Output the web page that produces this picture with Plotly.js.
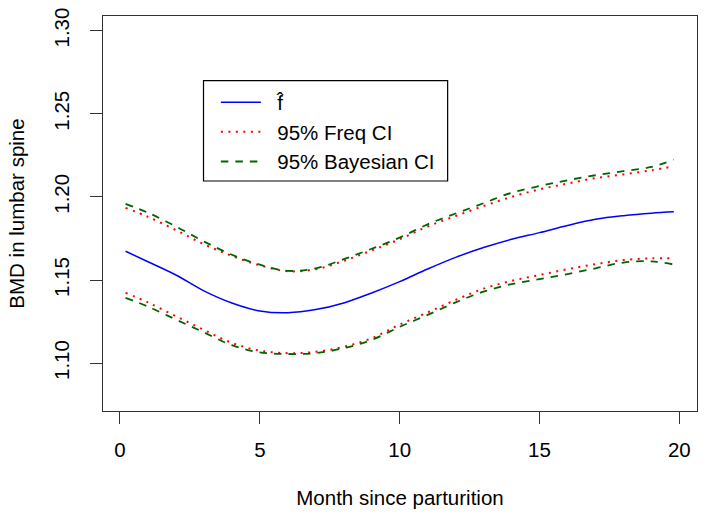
<!DOCTYPE html>
<html>
<head>
<meta charset="utf-8">
<script src="https://cdn.plot.ly/plotly-3.0.1.min.js"></script>
<style>
  html, body { margin: 0; padding: 0; background: #fff; }
  #chart { width: 710px; height: 521px; }
</style>
</head>
<body>
<div id="chart"></div>
<script>
// Month since parturition
const months = [0.2, 1, 2, 3, 4, 5, 6, 7, 8, 9, 10, 11, 12, 13, 14, 15, 16, 17, 18, 19, 19.8];

// fitted curve f-hat
const fHat = [1.1673, 1.1610, 1.1530, 1.1435, 1.1362, 1.1314, 1.1303, 1.1322, 1.1362, 1.1422, 1.1490,
              1.1566, 1.1636, 1.1695, 1.1745, 1.1785, 1.1828, 1.1865, 1.1887, 1.1902, 1.1910];

// 95% frequentist CI
const freqUpper = [1.1934, 1.1880, 1.1800, 1.1715, 1.1645, 1.1588, 1.1553, 1.1565, 1.1615, 1.1678, 1.1745,
                   1.1822, 1.1885, 1.1945, 1.2000, 1.2045, 1.2080, 1.2113, 1.2135, 1.2160, 1.2184];
const freqLower = [1.1423, 1.1365, 1.1282, 1.1200, 1.1122, 1.1075, 1.1060, 1.1068, 1.1098, 1.1150, 1.1232,
                   1.1305, 1.1380, 1.1448, 1.1495, 1.1530, 1.1565, 1.1595, 1.1620, 1.1630, 1.1631];

// 95% Bayesian CI
const bayesUpper = [1.1958, 1.1905, 1.1822, 1.1732, 1.1652, 1.1592, 1.1555, 1.1570, 1.1625, 1.1688, 1.1755,
                    1.1835, 1.1900, 1.1962, 1.2025, 1.2065, 1.2100, 1.2130, 1.2155, 1.2180, 1.2224];
const bayesLower = [1.1393, 1.1340, 1.1262, 1.1185, 1.1108, 1.1065, 1.1055, 1.1060, 1.1090, 1.1140, 1.1218,
                    1.1290, 1.1365, 1.1430, 1.1475, 1.1505, 1.1536, 1.1570, 1.1605, 1.1612, 1.1593];

const xTicks = [0, 5, 10, 15, 20];
const yTicks = [1.10, 1.15, 1.20, 1.25, 1.30];

const FONT = 'Liberation Sans, Arial, Helvetica, sans-serif';
const FS = 20.5;
const BLUE = '#0000ff', RED = '#ff0000', GREEN = '#006400';
const PAD = '\u00a0\u00a0';   // R puts a wider gap between sample and text

function curve(y, name, color, dash, width, legend) {
    return {
        type: 'scatter', mode: 'lines', x: months, y: y, name: PAD + name,
        showlegend: legend, legendgroup: name,
        line: { color: color, dash: dash, width: width, shape: 'spline', smoothing: 1 },
        hoverinfo: 'skip',
    };
}

const traces = [
    curve(fHat, 'f\u0302', BLUE, 'solid', 1.5, true),
    curve(freqUpper, '95% Freq CI', RED, '2px,5.5px', 2, true),
    curve(freqLower, '95% Freq CI', RED, '2px,5.5px', 2, false),
    curve(bayesUpper, '95% Bayesian CI', GREEN, '7.5px,7px', 1.8, true),
    curve(bayesLower, '95% Bayesian CI', GREEN, '7.5px,7px', 1.8, false),
];

const axisCommon = {
    showgrid: false, zeroline: false,
    showline: true, mirror: true, linecolor: '#333', linewidth: 1.3,
    ticks: 'outside', ticklen: 12, tickwidth: 1, tickcolor: '#333',
    tickfont: { family: FONT, size: FS, color: '#000' },
};

const layout = {
    width: 710, height: 521,
    paper_bgcolor: '#fff', plot_bgcolor: '#fff',
    margin: { l: 102.7, r: 12.7, t: 16, b: 110 },
    font: { family: FONT, color: '#000' },
    xaxis: Object.assign({}, axisCommon, {
        range: [-0.607, 20.63],
        tickvals: xTicks, ticktext: xTicks.map(String),
        ticklabelstandoff: 8,
        title: { text: 'Month since parturition', font: { family: FONT, size: FS }, standoff: 30 },
    }),
    yaxis: Object.assign({}, axisCommon, {
        range: [1.0712, 1.3088],
        tickvals: yTicks, ticktext: yTicks.map(v => v.toFixed(2)),
        tickangle: -90,
        ticklabelstandoff: 13,
        title: { text: 'BMD in lumbar spine', font: { family: FONT, size: FS }, standoff: 19 },
    }),
    showlegend: true,
    legend: {
        x: 0.19, y: 0.832, xanchor: 'left', yanchor: 'top',
        bgcolor: 'rgba(0,0,0,0)', borderwidth: 0,
        font: { family: FONT, size: FS, color: '#000' },
        itemwidth: 40, tracegroupgap: 0,
    },
    shapes: [{
        type: 'rect', xref: 'paper', yref: 'paper',
        x0: 0.1692, x1: 0.5802, y0: 0.5823, y1: 0.8362,
        line: { color: '#000', width: 1.2 }, fillcolor: 'rgba(0,0,0,0)',
    }],
};

Plotly.newPlot('chart', traces, layout, { staticPlot: true, displayModeBar: false });
</script>
</body>
</html>
